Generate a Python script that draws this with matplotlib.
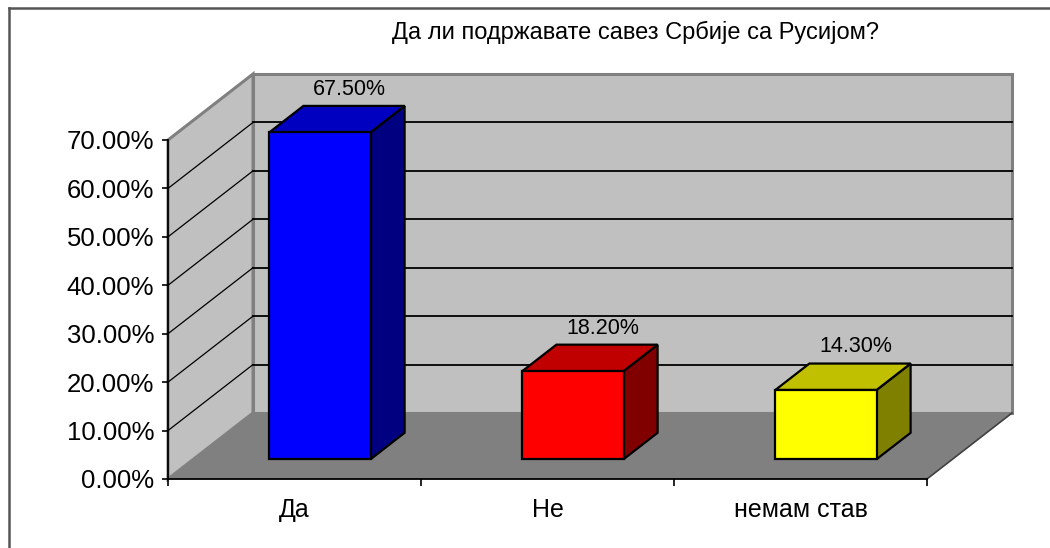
import matplotlib.pyplot as plt
from matplotlib.patches import Polygon
from matplotlib.lines import Line2D

plt.rcParams['font.family'] = ['Liberation Sans', 'DejaVu Sans']

categories = ['Да', 'Не', 'немам став']
values = [67.5, 18.2, 14.3]
front_colors = ['#0000FF', '#FF0000', '#FFFF00']
top_colors = ['#0000C0', '#C00000', '#C0C000']
side_colors = ['#000080', '#800000', '#808000']
title = 'Да ли подржавате савез Србије са Русијом?'
y_ticks = [0, 10, 20, 30, 40, 50, 60, 70]

# 3d look: depth offset of the back wall, in data units
DX = 85 / 253
DY = 66 / (339 / 70)
bar_w = 0.40
d0, d1 = 0.3, 0.7  # bar depth inside the floor

fig = plt.figure(figsize=(10.5, 5.48), dpi=100)
ax = fig.add_axes([168 / 1050, 69 / 548, 759 / 1050, 339 / 548])
ax.set_xlim(-0.5, 2.5)
ax.set_ylim(0, 70)
ax.patch.set_visible(False)

x0, x1 = -0.5, 2.5
top = y_ticks[-1]
wall_c = '#C0C0C0'
edge_c = '#808080'

# back wall
ax.add_patch(Polygon([(x0 + DX, DY), (x1 + DX, DY), (x1 + DX, top + DY), (x0 + DX, top + DY)],
                     closed=True, fc=wall_c, ec=edge_c, lw=2.2, clip_on=False, zorder=0))
# side wall
ax.add_patch(Polygon([(x0, 0), (x0 + DX, DY), (x0 + DX, top + DY), (x0, top)],
                     closed=True, fc=wall_c, ec=edge_c, lw=2.2, clip_on=False, zorder=0))
# floor
ax.add_patch(Polygon([(x0, 0), (x1, 0), (x1 + DX, DY), (x0 + DX, DY)],
                     closed=True, fc='#808080', ec='none', clip_on=False, zorder=0.5))
ax.plot([x1, x1 + DX], [0, DY], color='#404040', lw=1.2, clip_on=False, zorder=0.6)

# gridlines on the walls
for v in y_ticks[1:-1]:
    ax.plot([x0 + DX, x1 + DX], [v + DY, v + DY], color='black', lw=1.3, clip_on=False, zorder=1)
    ax.plot([x0, x0 + DX], [v, v + DY], color='black', lw=0.9, clip_on=False, zorder=1)

# bars
for i, v in enumerate(values):
    l = i - bar_w / 2 + d0 * DX
    r = i + bar_w / 2 + d0 * DX
    b = d0 * DY
    ddx = (d1 - d0) * DX
    ddy = (d1 - d0) * DY
    side = [(r, b), (r + ddx, b + ddy), (r + ddx, b + ddy + v), (r, b + v)]
    topf = [(l, b + v), (r, b + v), (r + ddx, b + ddy + v), (l + ddx, b + ddy + v)]
    ax.add_patch(Polygon(side, closed=True, fc=side_colors[i], ec='black', lw=1.6,
                         joinstyle='miter', clip_on=False, zorder=3))
    ax.add_patch(Polygon(topf, closed=True, fc=top_colors[i], ec='black', lw=1.6,
                         joinstyle='miter', clip_on=False, zorder=3))
    ax.bar(i + d0 * DX, v, width=bar_w, bottom=b, color=front_colors[i], edgecolor='black',
           linewidth=1.6, zorder=4, clip_on=False)
    ax.annotate(f'{v:.2f}%', xy=((l + r) / 2, b + v), xytext=(21.5, 31), textcoords='offset points',
                ha='center', va='center', fontsize=15.5, zorder=5, annotation_clip=False)

# axes
for s in ['top', 'right']:
    ax.spines[s].set_visible(False)
for s in ['left', 'bottom']:
    ax.spines[s].set_color('black')
    ax.spines[s].set_linewidth(1.3)
    ax.spines[s].set_zorder(2)
ax.set_yticks(y_ticks)
ax.set_yticklabels([f'{t:.2f}%' for t in y_ticks], fontsize=18.5)
ax.tick_params(axis='y', direction='out', length=4, width=1.2, pad=6)
ax.set_xticks([-0.5, 0.5, 1.5, 2.5])
ax.set_xticklabels([])
ax.tick_params(axis='x', which='major', direction='out', length=5, width=1.2)
ax.set_xticks(range(len(categories)), minor=True)
ax.set_xticklabels(categories, minor=True, fontsize=18)
ax.tick_params(axis='x', which='minor', length=0, pad=14)

fig.text(635 / 1050, 1 - 32 / 548, title, ha='center', va='center', fontsize=17)

# frame of the chart area
fig.add_artist(Line2D([9 / 1050, 9 / 1050], [0, 1 - 8 / 548], transform=fig.transFigure, color='#555555', lw=1.8))
fig.add_artist(Line2D([9 / 1050, 1], [1 - 8 / 548, 1 - 8 / 548], transform=fig.transFigure, color='#555555', lw=1.8))

fig.savefig('out.png', dpi=100)
